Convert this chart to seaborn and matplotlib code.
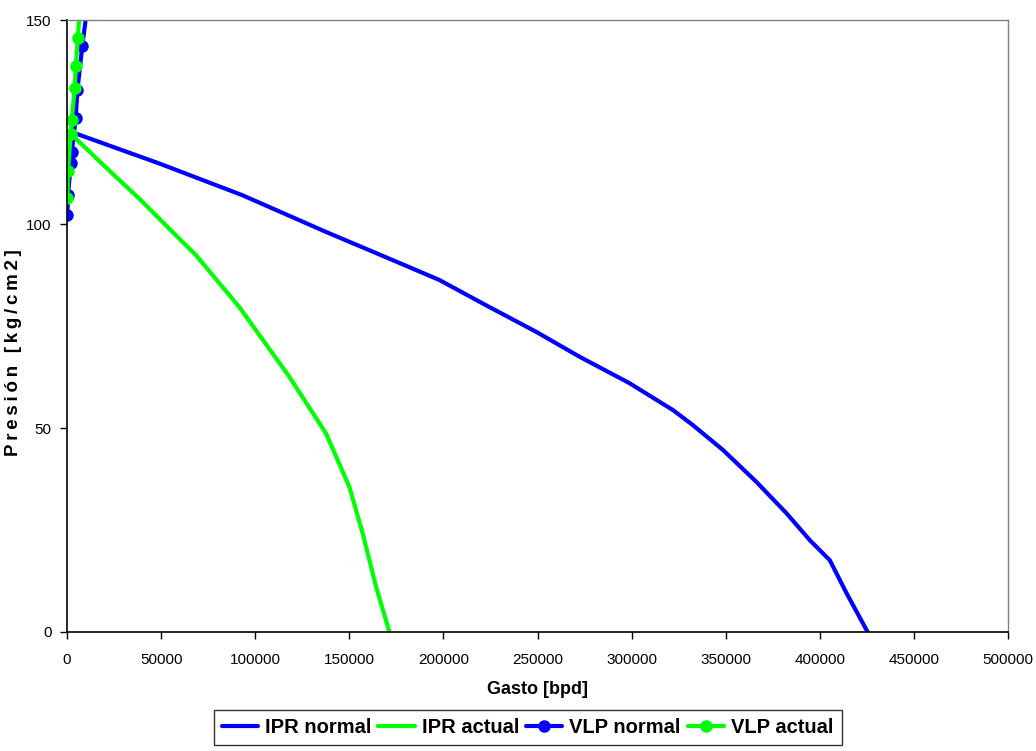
import numpy as np
import pandas as pd
import matplotlib
matplotlib.use("Agg")
import matplotlib.pyplot as plt
import seaborn as sns

# IPR curves (gasto in bpd, presion in kg/cm2)
ipr_normal_q = [3000, 48900, 93200, 137600, 173000, 197900, 222700, 249300, 272300,
                298900, 322000, 332600, 348600, 366300, 382300, 394700, 405300, 414200, 425400]
ipr_normal_p = [122.5, 114.9, 107.1, 98.1, 91.2, 86.3, 80.1, 73.6, 67.5,
                61.0, 54.4, 50.7, 44.6, 36.8, 29.1, 22.5, 17.6, 9.5, 0.0]

ipr_actual_q = [2800, 20000, 39200, 54300, 68500, 91500, 118100, 137600, 150000, 157100, 164200, 171300]
ipr_actual_p = [121.8, 114.2, 105.9, 98.9, 92.4, 79.7, 62.6, 48.7, 35.6, 24.2, 11.1, 0.0]

# VLP curves
vlp_normal_q = [200, 500, 2000, 2500, 4600, 4600, 5500, 8100, 11500]
vlp_normal_p = [102.2, 107.1, 114.9, 117.7, 124.0, 127.9, 132.8, 143.6, 156.0]

vlp_actual_q = [200, 500, 2000, 2500, 4100, 4600, 5800, 7200]
vlp_actual_p = [106.3, 113.1, 122.2, 125.5, 133.5, 138.7, 145.7, 156.0]

x_ticks = [0, 50000, 100000, 150000, 200000, 250000, 300000, 350000, 400000, 450000, 500000]
y_ticks = [0, 50, 100, 150]

BLUE = "#0000FF"
GREEN = "#00FF00"

sns.set_style("ticks")
plt.rcParams['font.family'] = ['Liberation Sans', 'DejaVu Sans']
plt.rcParams['text.color'] = 'black'
plt.rcParams['axes.labelcolor'] = 'black'
plt.rcParams['xtick.color'] = 'black'
plt.rcParams['ytick.color'] = 'black'

fig = plt.figure(figsize=(10.36, 7.51), dpi=100)
ax = fig.add_axes([0.0647, 0.1585, 0.9083, 0.8145])

lw = 3.0
sns.lineplot(x=ipr_normal_q, y=ipr_normal_p, sort=False, color=BLUE, lw=lw,
             label="IPR normal", ax=ax)
sns.lineplot(x=ipr_actual_q, y=ipr_actual_p, sort=False, color=GREEN, lw=lw,
             label="IPR actual", ax=ax)
sns.lineplot(x=vlp_normal_q, y=vlp_normal_p, sort=False, color=BLUE, lw=lw,
             marker="o", markersize=9, markeredgewidth=0, label="VLP normal", ax=ax)
sns.lineplot(x=vlp_actual_q, y=vlp_actual_p, sort=False, color=GREEN, lw=lw,
             marker="o", markersize=9, markeredgewidth=0, label="VLP actual", ax=ax)

ax.set_xlim(0, 500000)
ax.set_ylim(0, 150)
ax.set_xticks(x_ticks)
ax.set_xticklabels([str(t) for t in x_ticks])
ax.set_yticks(y_ticks)

for side in ["left", "bottom"]:
    ax.spines[side].set_visible(True)
    ax.spines[side].set_color("black")
    ax.spines[side].set_linewidth(1.2)
for side in ["top", "right"]:
    ax.spines[side].set_visible(True)
    ax.spines[side].set_color("#808080")
    ax.spines[side].set_linewidth(1.0)

ax.tick_params(axis="both", direction="out", length=5, width=1, color="black",
               labelsize=11, pad=6)
ax.tick_params(axis="x", pad=10)

ax.set_xlabel("Gasto [bpd]", fontsize=13, fontweight="bold", labelpad=10)
ax.set_ylabel("\u2009".join("Presión [kg/cm2]"), fontsize=13.5, fontweight="bold")
ax.yaxis.set_label_coords(-0.048, 0.457)

leg = ax.legend(loc="upper center", bbox_to_anchor=(0.4894, -0.128), ncol=4,
                frameon=True, fancybox=False, handlelength=1.8,
                handletextpad=0.35, columnspacing=0.35, borderpad=0.4,
                borderaxespad=0, prop={"weight": "bold", "size": 14.5})
leg.get_frame().set_edgecolor("black")
leg.get_frame().set_linewidth(1.0)

fig.savefig("out.png", dpi=100)
